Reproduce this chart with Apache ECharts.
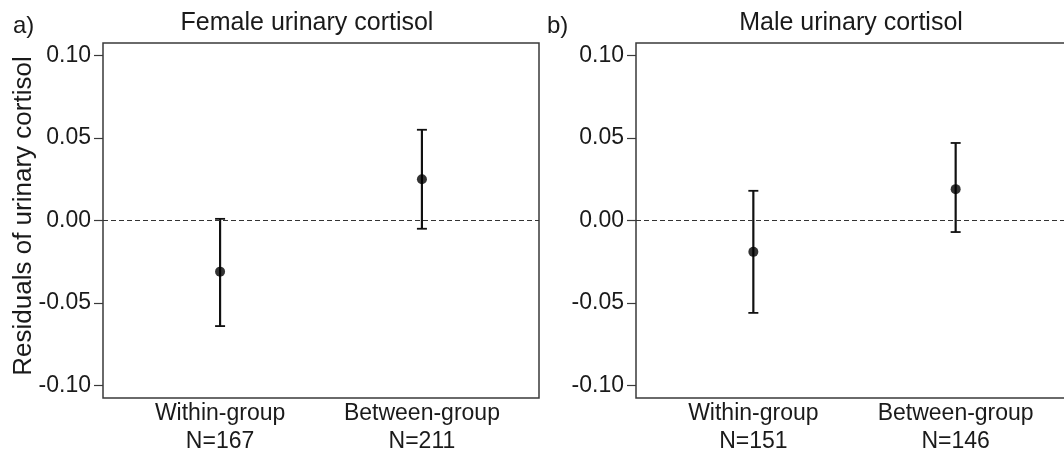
<!DOCTYPE html>
<html>
<head>
<meta charset="utf-8">
<script src="https://cdn.jsdelivr.net/npm/echarts@6/dist/echarts.min.js"></script>
<style>
html, body { margin: 0; padding: 0; background: #fff; }
#chart { width: 1064px; height: 453px; }
</style>
</head>
<body>
<div id="chart"></div>
<script>
// categories + sample sizes
var categories = ['Within-group', 'Between-group'];
var femaleN = [167, 211];
var maleN = [151, 146];

// residual means with lower / upper error limits
var femaleMean = [-0.031, 0.025];
var femaleLow = [-0.064, -0.005];
var femaleHigh = [0.001, 0.055];
var maleMean = [-0.019, 0.019];
var maleLow = [-0.056, -0.007];
var maleHigh = [0.018, 0.047];

var yTicks = [-0.10, -0.05, 0.00, 0.05, 0.10];
var panelTitles = ['Female urinary cortisol', 'Male urinary cortisol'];
var panelTags = ['a)', 'b)'];

var FONT = '"Liberation Sans", Arial, sans-serif';
var TEXT = '#1a1a1a';

function makeX(idx, nArr) {
    return {
        type: 'value',
        gridIndex: idx,
        min: 0.42,
        max: 2.58,
        axisLine: { show: false },
        axisTick: { show: false },
        splitLine: { show: false },
        axisLabel: {
            customValues: [1, 2],
            margin: 2,
            fontFamily: FONT,
            fontSize: 23,
            lineHeight: 28,
            color: TEXT,
            formatter: function (v) {
                var i = Math.round(v) - 1;
                return categories[i] + '\nN=' + nArr[i];
            }
        }
    };
}

function makeY(idx) {
    return {
        type: 'value',
        gridIndex: idx,
        min: -0.1076,
        max: 0.1076,
        axisLine: { show: false },
        splitLine: { show: false },
        axisTick: {
            show: true,
            customValues: yTicks,
            length: 9,
            lineStyle: { color: '#3a3a3a', width: 1.2 }
        },
        axisLabel: {
            customValues: yTicks,
            margin: 12,
            fontFamily: FONT,
            fontSize: 23,
            color: TEXT,
            formatter: function (v) { return v.toFixed(2); }
        }
    };
}

function errorData(low, high) {
    return low.map(function (l, i) { return [i + 1, l, high[i]]; });
}
function pointData(mean) {
    return mean.map(function (m, i) { return [i + 1, m]; });
}

function renderBar(params, api) {
    var x = api.value(0);
    var top = api.coord([x, api.value(2)]);
    var bot = api.coord([x, api.value(1)]);
    var cap = 5;
    return {
        type: 'group',
        children: [
            { type: 'line', shape: { x1: top[0], y1: top[1], x2: bot[0], y2: bot[1] }, style: { stroke: '#111', lineWidth: 2.2 } },
            { type: 'line', shape: { x1: top[0] - cap, y1: top[1], x2: top[0] + cap, y2: top[1] }, style: { stroke: '#111', lineWidth: 1.8 } },
            { type: 'line', shape: { x1: bot[0] - cap, y1: bot[1], x2: bot[0] + cap, y2: bot[1] }, style: { stroke: '#111', lineWidth: 1.8 } }
        ]
    };
}

function makeSeries(idx, low, high, mean) {
    return [
        {
            type: 'custom',
            xAxisIndex: idx,
            yAxisIndex: idx,
            renderItem: renderBar,
            data: errorData(low, high),
            silent: true,
            markLine: {
                silent: true,
                symbol: 'none',
                label: { show: false },
                lineStyle: { color: '#333', width: 1, type: [5, 3] },
                data: [{ yAxis: 0 }]
            },
            z: 3
        },
        {
            type: 'scatter',
            xAxisIndex: idx,
            yAxisIndex: idx,
            symbol: 'circle',
            symbolSize: 10,
            itemStyle: { color: '#000' },
            data: pointData(mean),
            z: 4
        }
    ];
}

var chart = echarts.init(document.getElementById('chart'), null, { renderer: 'canvas' });

var option = {
    backgroundColor: '#fff',
    animation: false,
    grid: [
        { left: 103, top: 43, width: 436, height: 355, outerBoundsMode: 'none', show: true, borderColor: '#3a3a3a', borderWidth: 1.5, backgroundColor: 'transparent' },
        { left: 636, top: 43, width: 437, height: 355, outerBoundsMode: 'none', show: true, borderColor: '#3a3a3a', borderWidth: 1.5, backgroundColor: 'transparent' }
    ],
    xAxis: [makeX(0, femaleN), makeX(1, maleN)],
    yAxis: [makeY(0), makeY(1)],
    series: makeSeries(0, femaleLow, femaleHigh, femaleMean)
        .concat(makeSeries(1, maleLow, maleHigh, maleMean)),
    graphic: [
        { type: 'text', x: 13, y: 26, style: { text: panelTags[0], font: '24px ' + FONT, fill: TEXT, textVerticalAlign: 'middle' } },
        { type: 'text', x: 547, y: 26, style: { text: panelTags[1], font: '24px ' + FONT, fill: TEXT, textVerticalAlign: 'middle' } },
        { type: 'text', x: 307, y: 23, style: { text: panelTitles[0], font: '25px ' + FONT, fill: TEXT, textAlign: 'center', textVerticalAlign: 'middle' } },
        { type: 'text', x: 851, y: 23, style: { text: panelTitles[1], font: '25px ' + FONT, fill: TEXT, textAlign: 'center', textVerticalAlign: 'middle' } },
        { type: 'text', x: 24, y: 216, rotation: Math.PI / 2, style: { text: 'Residuals of urinary cortisol', font: '26px ' + FONT, fill: TEXT, textAlign: 'center', textVerticalAlign: 'middle' } }
    ]
};

chart.setOption(option);
</script>
</body>
</html>
